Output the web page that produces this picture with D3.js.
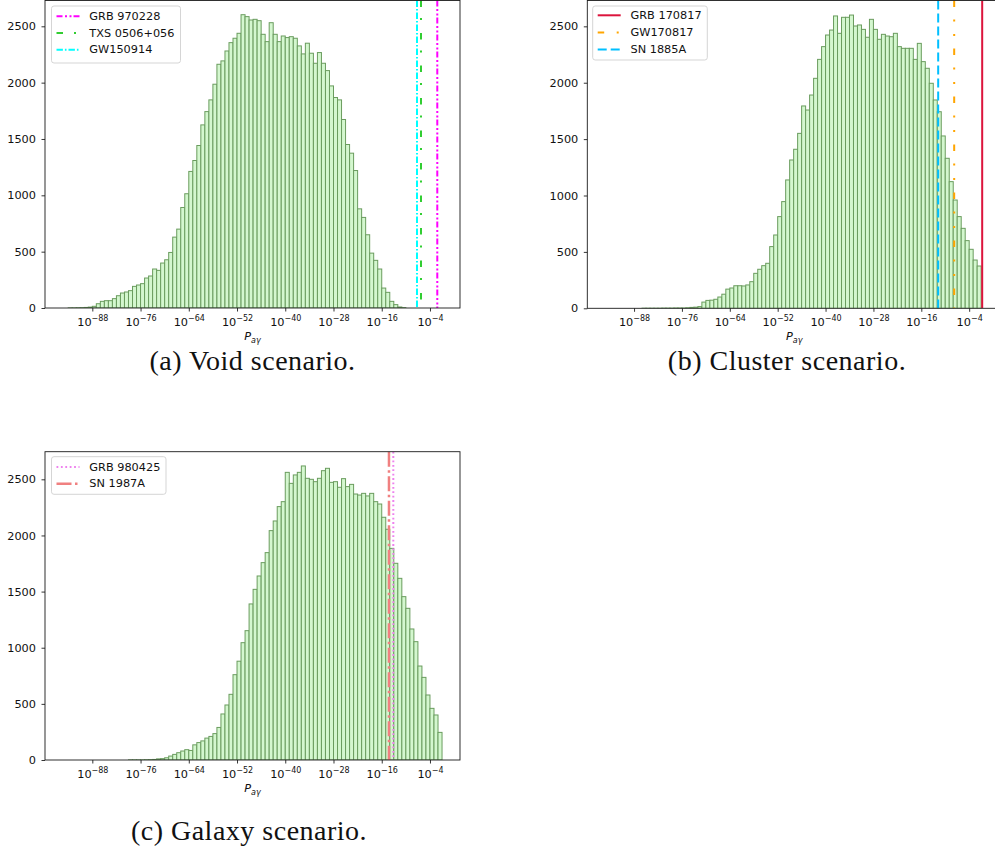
<!DOCTYPE html>
<html>
<head>
<meta charset="utf-8">
<script src="https://cdn.jsdelivr.net/npm/d3@7"></script>
<style>
  html, body { margin: 0; padding: 0; background: #ffffff; }
  svg { display: block; }
</style>
</head>
<body>
<svg id="fig" width="995" height="852"></svg>
<script>
// Histogram bin edges, as log10(P_aγ): 94 one-decade bins.
const binEdgesLog10 = [
  -95,-94,-93,-92,-91,-90,-89,-88,-87,-86,-85,-84,-83,-82,-81,-80,-79,-78,-77,-76,
  -75,-74,-73,-72,-71,-70,-69,-68,-67,-66,-65,-64,-63,-62,-61,-60,-59,-58,-57,-56,
  -55,-54,-53,-52,-51,-50,-49,-48,-47,-46,-45,-44,-43,-42,-41,-40,-39,-38,-37,-36,
  -35,-34,-33,-32,-31,-30,-29,-28,-27,-26,-25,-24,-23,-22,-21,-20,-19,-18,-17,-16,
  -15,-14,-13,-12,-11,-10,-9,-8,-7,-6,-5,-4,-3,-2,-1
];

// Counts per bin, one array per scenario.
const voidCounts = [
  0,1,1,2,3,5,8,
  15,38,59,65,65,83,109,133,142,154,192,204,216,266,284,346,334,399,428,493,
  629,700,892,1014,1212,1309,1442,1625,1743,1847,1986,2163,2193,2281,2355,2394,2438,
  2603,2586,2556,2562,2550,2429,2364,2532,2429,2364,2414,2400,2408,2394,2326,2255,2350,2261,2172,2267,2172,2107,
  1971,1868,1847,1673,1451,1374,1220,880,804,650,487,423,346,177,139,59,30,9,3,
  0,0,0,0,0,0,0,0,0
];
const clusterCounts = [
  0,0,0,0,0,0,0,0,0,1,1,1,1,1,2,2,2,3,3,
  3,5,8,10,15,55,70,72,80,100,125,170,180,200,200,
  198,207,236,310,346,378,399,547,650,813,946,1138,1315,1410,1551,1794,1758,1891,2039,2207,
  2320,2423,2467,2592,2438,2580,2580,2600,2503,2512,2473,2403,2562,2473,2385,2429,2414,2408,2438,2320,
  2305,2305,2305,2207,2349,2187,2128,1995,1847,1743,
  1528,1330,1123,960,813,709,600,523,428,375
];
const galaxyCounts = [
  0,0,0,0,0,0,0,0,0,0,0,0,0,0,0,0,1,1,
  1,1,2,3,5,10,12,20,35,50,65,80,92,85,135,155,170,195,210,235,290,410,490,585,760,880,
  1045,1152,1390,1520,1639,1758,1847,2043,2129,2257,2301,2562,2464,2539,2562,2619,2509,2500,2479,2509,
  2577,2598,2473,2479,2429,2506,2435,2455,2369,2360,2375,2352,2375,2301,2280,2162,2055,1885,1752,1618,
  1455,1351,1167,1054,837,736,579,460,401,246
];

// Axis ticks.
const xTickExponents = [-88, -76, -64, -52, -40, -28, -16, -4];
const yTickValues = [0, 500, 1000, 1500, 2000, 2500];

// Observed events marked on each panel, at log10(P_aγ).
const voidEvents = ["GRB 970228", "TXS 0506+056", "GW150914"];
const voidEventLog10P = [-2.18, -6.23, -7.23];
const clusterEvents = ["GRB 170817", "GW170817", "SN 1885A"];
const clusterEventLog10P = [-0.74, -7.76, -11.77];
const galaxyEvents = ["GRB 980425", "SN 1987A"];
const galaxyEventLog10P = [-13.12, -14.2];

const xLabelMain = "P";
const xLabelSub = "aγ";
const captions = ["(a) Void scenario.", "(b) Cluster scenario.", "(c) Galaxy scenario."];

// ---- styling ----
const barFill = "#d4f7cf";
const barEdge = "#6a9c5e";
const tickFont = "'DejaVu Sans', sans-serif";
const eventStyles = {
  "GRB 970228":   { color: "#ff00ff", dash: "6,2.5,2,2.5,2,2", width: 2 },
  "TXS 0506+056": { color: "#32cd32", dash: "6.5,11,2,13", width: 2 },
  "GW150914":     { color: "#00ffff", dash: "6.4,2,1.6,2", width: 2 },
  "GRB 170817":   { color: "#dc143c", dash: null, width: 2 },
  "GW170817":     { color: "#ffa500", dash: "6.5,12.5,2,12.5,2,12.5", width: 2 },
  "SN 1885A":     { color: "#00bfff", dash: "9,4", width: 2 },
  "GRB 980425":   { color: "#ee82ee", dash: "1.8,2.6", width: 2 },
  "SN 1987A":     { color: "#f08080", dash: "15,3.5,2.5,3.5", width: 2.5 }
};

// ---- panel layout ----
const panels = [
  { counts: voidCounts, events: voidEvents, eventVals: voidEventLog10P,
    left: 45, right: 460, top: 0.5, bottom: 308, xLog: [-99.77, 3.47], yMax: 2729,
    legend: { x: 51.5, y: 6, w: 129, h: 57, row0: 16.3, step: 16.7 },
    caption: { text: captions[0], x: 252.5, y: 370 } },
  { counts: clusterCounts, events: clusterEvents, eventVals: clusterEventLog10P,
    left: 587.3, right: 1001.1, top: 0.5, bottom: 308.3, xLog: [-99.72, 4.0], yMax: 2729,
    legend: { x: 592.7, y: 6, w: 114.6, h: 54, row0: 15.3, step: 17.1 },
    caption: { text: captions[1], x: 787, y: 370 } },
  { counts: galaxyCounts, events: galaxyEvents, eventVals: galaxyEventLog10P,
    left: 45, right: 460, top: 451.7, bottom: 760, xLog: [-99.77, 3.47], yMax: 2746,
    legend: { x: 51.5, y: 456.7, w: 114.5, h: 37.6, row0: 467, step: 16.7 },
    caption: { text: captions[2], x: 249, y: 840 } }
];

const svg = d3.select("#fig");
svg.append("rect").attr("width", 995).attr("height", 852).attr("fill", "#ffffff");

panels.forEach((p, pi) => {
  const g = svg.append("g");
  const x = d3.scaleLog()
    .domain([Math.pow(10, p.xLog[0]), Math.pow(10, p.xLog[1])])
    .range([p.left, p.right]);
  const y = d3.scaleLinear().domain([0, p.yMax]).range([p.bottom, p.top]);

  const clipId = "clip" + pi;
  svg.append("defs").append("clipPath").attr("id", clipId)
    .append("rect")
    .attr("x", p.left).attr("y", p.top)
    .attr("width", p.right - p.left).attr("height", p.bottom - p.top);

  // histogram bars
  g.append("g").attr("clip-path", `url(#${clipId})`)
    .selectAll("rect").data(p.counts).join("rect")
    .attr("x", (d, i) => x(Math.pow(10, binEdgesLog10[i])))
    .attr("width", (d, i) => x(Math.pow(10, binEdgesLog10[i + 1])) - x(Math.pow(10, binEdgesLog10[i])))
    .attr("y", d => y(d))
    .attr("height", d => y(0) - y(d))
    .attr("fill", barFill)
    .attr("stroke", barEdge)
    .attr("stroke-width", 1);

  // event markers spanning the full axes height
  g.append("g").attr("clip-path", `url(#${clipId})`)
    .selectAll("line").data(p.events).join("line")
    .attr("x1", (d, i) => x(Math.pow(10, p.eventVals[i])))
    .attr("x2", (d, i) => x(Math.pow(10, p.eventVals[i])))
    .attr("y1", p.top).attr("y2", p.bottom)
    .attr("stroke", d => eventStyles[d].color)
    .attr("stroke-width", d => eventStyles[d].width)
    .attr("stroke-dasharray", d => eventStyles[d].dash)
    .attr("fill", "none");

  // x axis
  const xAxis = g.append("g")
    .attr("transform", `translate(0,${p.bottom})`)
    .call(d3.axisBottom(x)
      .tickValues(xTickExponents.map(e => Math.pow(10, e)))
      .tickSize(3.5)
      .tickPadding(4)
      .tickFormat(() => ""));
  xAxis.select(".domain").remove();
  xAxis.selectAll(".tick line").attr("stroke", "#000").attr("stroke-width", 0.8);
  xAxis.selectAll(".tick text")
    .attr("font-family", tickFont)
    .attr("fill", "#111")
    .attr("y", 18).attr("dy", null)
    .each(function(d, i) {
      const t = d3.select(this);
      t.append("tspan").attr("font-size", "11.3px").text("10");
      t.append("tspan").attr("font-size", "8px").attr("dy", -5.5)
        .text("\u2212" + Math.abs(xTickExponents[i]));
    });

  // y axis
  const yAxis = g.append("g")
    .attr("transform", `translate(${p.left},0)`)
    .call(d3.axisLeft(y).tickValues(yTickValues).tickFormat(d3.format("d"))
      .tickSize(3.5).tickPadding(5.5));
  yAxis.select(".domain").remove();
  yAxis.selectAll(".tick line").attr("stroke", "#000").attr("stroke-width", 0.8);
  yAxis.selectAll(".tick text")
    .attr("font-family", tickFont)
    .attr("font-size", "11.3px")
    .attr("fill", "#111");

  // spines
  g.append("rect")
    .attr("x", p.left).attr("y", p.top)
    .attr("width", p.right - p.left).attr("height", p.bottom - p.top)
    .attr("fill", "none").attr("stroke", "#1a1a1a").attr("stroke-width", 0.9);

  // x label
  const xl = g.append("text")
    .attr("x", (p.left + p.right) / 2).attr("y", p.bottom + 32)
    .attr("text-anchor", "middle")
    .attr("font-family", tickFont)
    .attr("font-style", "italic")
    .attr("fill", "#111");
  xl.append("tspan").attr("font-size", "11.3px").text(xLabelMain);
  xl.append("tspan").attr("font-size", "8px").attr("dy", 3).text(xLabelSub);

  // legend
  const L = p.legend;
  const lg = g.append("g");
  lg.append("rect")
    .attr("x", L.x).attr("y", L.y).attr("width", L.w).attr("height", L.h)
    .attr("rx", 2.5).attr("ry", 2.5)
    .attr("fill", "#ffffff").attr("fill-opacity", 0.8)
    .attr("stroke", "#d0d0d0").attr("stroke-width", 0.9);
  p.events.forEach((name, i) => {
    const ry = L.row0 + i * L.step;
    const st = eventStyles[name];
    lg.append("line")
      .attr("x1", L.x + 5).attr("x2", L.x + 28)
      .attr("y1", ry).attr("y2", ry)
      .attr("stroke", st.color).attr("stroke-width", st.width)
      .attr("stroke-dasharray", st.dash);
    lg.append("text")
      .attr("x", L.x + 37.8).attr("y", ry)
      .attr("dominant-baseline", "central")
      .attr("font-family", tickFont).attr("font-size", "11.3px")
      .attr("fill", "#111")
      .text(name);
  });

  // caption
  svg.append("text")
    .attr("x", p.caption.x).attr("y", p.caption.y)
    .attr("text-anchor", "middle")
    .attr("font-family", "'Liberation Serif', 'DejaVu Serif', serif")
    .attr("font-size", "28px")
    .attr("letter-spacing", "0.5px")
    .attr("fill", "#111")
    .text(p.caption.text);
});
</script>
</body>
</html>
